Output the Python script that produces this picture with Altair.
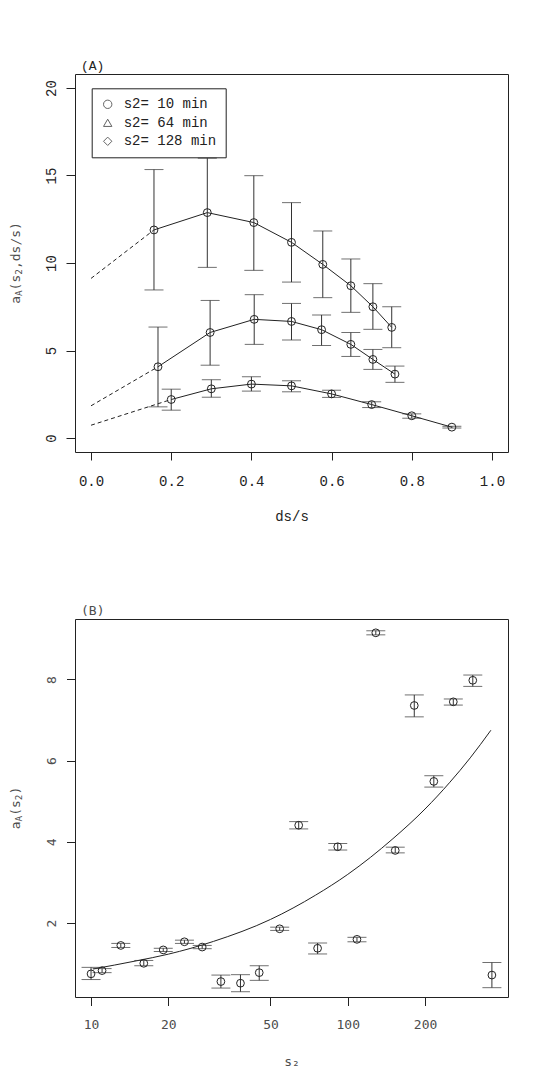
import altair as alt
import pandas as pd

# ---------------- Panel A data ----------------
a_labels = ["s2= 10 min", "s2= 64 min", "s2= 128 min"]
a_series = ["top", "mid", "bot"]
a_x_top = [0.157, 0.290, 0.406, 0.500, 0.578, 0.648, 0.703, 0.750]
a_y_top = [11.89, 12.88, 12.31, 11.18, 9.92, 8.70, 7.50, 6.32]
a_hi_top = [15.34, 15.99, 14.99, 13.45, 11.83, 10.23, 8.82, 7.50]
a_lo_top = [8.46, 9.75, 9.58, 8.91, 8.02, 7.18, 6.21, 5.16]
a_x_mid = [0.167, 0.297, 0.407, 0.500, 0.575, 0.648, 0.703, 0.758]
a_y_mid = [4.07, 6.03, 6.78, 6.66, 6.19, 5.35, 4.49, 3.65]
a_hi_mid = [6.34, 7.86, 8.19, 7.69, 7.03, 6.03, 5.06, 4.11]
a_lo_mid = [1.78, 4.16, 5.35, 5.60, 5.29, 4.66, 3.92, 3.18]
a_x_bot = [0.20, 0.30, 0.40, 0.50, 0.60, 0.70, 0.80, 0.90]
a_y_bot = [2.20, 2.81, 3.08, 2.98, 2.52, 1.91, 1.27, 0.62]
a_hi_bot = [2.79, 3.33, 3.50, 3.27, 2.73, 2.07, 1.38, 0.67]
a_lo_bot = [1.59, 2.33, 2.68, 2.64, 2.32, 1.74, 1.13, 0.57]
a_extrap_x = [0.0, 0.0, 0.0]
a_extrap_y = [9.12, 1.84, 0.73]
a_xticks = [0.0, 0.2, 0.4, 0.6, 0.8, 1.0]
a_yticks = [0, 5, 10, 15, 20]

# ---------------- Panel B data ----------------
b_s2 = [10.0, 11.04, 13.06, 16.05, 19.11, 23.11, 27.1, 32.05, 38.2, 45.2, 54.3,
        64.4, 76.3, 91.4, 108.6, 128.6, 153.1, 181.6, 216.4, 257.7, 306.9, 364.3]
b_a = [0.75, 0.83, 1.45, 1.01, 1.34, 1.54, 1.41, 0.56, 0.52, 0.78, 1.86,
       4.41, 1.38, 3.88, 1.60, 9.15, 3.79, 7.36, 5.49, 7.45, 7.98, 0.72]
b_hi = [0.91, 0.88, 1.50, 1.08, 1.38, 1.58, 1.45, 0.72, 0.73, 0.95, 1.90,
        4.50, 1.51, 3.96, 1.65, 9.20, 3.87, 7.62, 5.63, 7.52, 8.11, 1.03]
b_lo = [0.61, 0.78, 1.40, 0.95, 1.30, 1.50, 1.37, 0.40, 0.31, 0.59, 1.82,
        4.32, 1.24, 3.80, 1.54, 9.10, 3.73, 7.08, 5.35, 7.37, 7.83, 0.41]
b_fit_s2 = [10.2, 15, 20, 30, 50, 75, 100, 150, 200, 250, 300, 361]
b_fit_a = [0.87, 1.07, 1.235, 1.55, 2.09, 2.69, 3.20, 4.08, 4.81, 5.47, 6.07, 6.75]
b_xticks = [10, 20, 50, 100, 200]
b_yticks = [2, 4, 6, 8]

# ---------------- styling ----------------
W, H = 433, 378
FA = "Liberation Mono"
FB = "DejaVu Sans Mono"
INK = "#222222"
GREY = "#4d4d4d"

# ---------------- tables ----------------
df_a = pd.DataFrame({
    "series": [a_series[0]] * len(a_x_top) + [a_series[1]] * len(a_x_mid) + [a_series[2]] * len(a_x_bot),
    "x": a_x_top + a_x_mid + a_x_bot,
    "y": a_y_top + a_y_mid + a_y_bot,
    "hi": a_hi_top + a_hi_mid + a_hi_bot,
    "lo": a_lo_top + a_lo_mid + a_lo_bot,
})
firsts = [(a_x_top[0], a_y_top[0]), (a_x_mid[0], a_y_mid[0]), (a_x_bot[0], a_y_bot[0])]
dash_rows = []
for s, ex, ey, (fx, fy) in zip(a_series, a_extrap_x, a_extrap_y, firsts):
    dash_rows.append({"series": s, "x": ex, "y": ey})
    dash_rows.append({"series": s, "x": fx, "y": fy})
df_dash = pd.DataFrame(dash_rows)
df_leg = pd.DataFrame({"series": a_labels, "x": [None] * 3, "y": [None] * 3})

df_b = pd.DataFrame({"s2": b_s2, "a": b_a, "hi": b_hi, "lo": b_lo})
df_fit = pd.DataFrame({"s2": b_fit_s2, "a": b_fit_a})

# ---------------- helpers ----------------
def rot_title(pieces, fs, font, color, cx, cy):
    sub = fs * 0.72
    widths = [len(t) * 0.602 * (sub if s else fs) for t, s in pieces]
    y = cy + sum(widths) / 2
    out = []
    for (t, s), w in zip(pieces, widths):
        out.append(
            alt.Chart(alt.Data(values=[{}])).mark_text(
                text=t, angle=270, align="left", baseline="middle",
                font=font, fontSize=sub if s else fs, color=color
            ).encode(x=alt.value(cx + (3 if s else 0)), y=alt.value(y))
        )
        y -= w
    return out

# ---------------- Panel A ----------------
xa = alt.Scale(domain=[-0.04, 1.04], nice=False, zero=False)
ya = alt.Scale(domain=[-0.8, 20.8], nice=False, zero=False)
ax_xa = alt.Axis(values=a_xticks, format=".1f", title="ds/s", tickSize=8, labelPadding=14,
                 titlePadding=21, labelFont=FA, labelFontSize=14, titleFont=FA, titleFontSize=14,
                 titleFontWeight="normal", labelColor=INK, titleColor=INK, tickColor=INK,
                 domain=False, grid=False, labelFlush=False)
ax_ya = alt.Axis(values=a_yticks, title=None, tickSize=9, labelPadding=8, labelAngle=270,
                 labelAlign="center", labelBaseline="bottom", labelFont=FA, labelFontSize=14,
                 labelColor=INK, tickColor=INK, domain=False, grid=False)

def XA(f):
    return alt.X(f, type="quantitative", scale=xa, axis=ax_xa)

def YA(f):
    return alt.Y(f, type="quantitative", scale=ya, axis=ax_ya)

dash_a = alt.Chart(df_dash).mark_line(color=INK, strokeWidth=1, strokeDash=[4, 3]).encode(
    x=XA("x"), y=YA("y"), detail="series:N")
line_a = alt.Chart(df_a).mark_line(color=INK, strokeWidth=1).encode(
    x=XA("x"), y=YA("y"), detail="series:N")
rule_a = alt.Chart(df_a).mark_rule(color="#333333", strokeWidth=1).encode(
    x=XA("x"), y=YA("lo"), y2="hi:Q")
caphi_a = alt.Chart(df_a).mark_tick(orient="horizontal", size=19, thickness=1, color="#333333").encode(
    x=XA("x"), y=YA("hi"))
caplo_a = alt.Chart(df_a).mark_tick(orient="horizontal", size=19, thickness=1, color="#333333").encode(
    x=XA("x"), y=YA("lo"))
pts_a = alt.Chart(df_a).mark_point(shape="circle", filled=False, size=62, color=INK, strokeWidth=1, opacity=1).encode(
    x=XA("x"), y=YA("y"))
leg_a = alt.Chart(df_leg).mark_point(filled=False, size=64, color=INK, strokeWidth=1).encode(
    x=XA("x"), y=YA("y"),
    shape=alt.Shape("series:N",
                    scale=alt.Scale(domain=a_labels, range=["circle", "triangle-up", "diamond"]),
                    legend=alt.Legend(title=None, orient="none", legendX=16.7, legendY=14.3,
                                      strokeColor=INK, padding=9, rowPadding=4.5,
                                      labelFont=FA, labelFontSize=14, labelColor=INK,
                                      symbolSize=70, symbolStrokeColor=INK, symbolStrokeWidth=1,
                                      symbolFillColor="transparent", labelOffset=9)))

title_a = rot_title([("a", False), ("A", True), ("(s", False), ("2", True), (",ds/s)", False)],
                    13, FB, GREY, -59.5, H / 2)

panel_a = alt.layer(dash_a, line_a, rule_a, caphi_a, caplo_a, pts_a, leg_a, *title_a).properties(
    width=W, height=H,
    title=alt.TitleParams("(A)", anchor="start", frame="group", font=FA, fontSize=13,
                          fontWeight="normal", color=INK, offset=1, dx=6))

# ---------------- Panel B ----------------
xb = alt.Scale(type="log", domain=[8.66, 420.9], nice=False)
yb = alt.Scale(domain=[0.18, 9.49], nice=False, zero=False)
ax_xb = alt.Axis(values=b_xticks, format="d", title="s₂", tickSize=8.5, labelPadding=13,
                 titlePadding=24, labelFont=FB, labelFontSize=13, titleFont=FB, titleFontSize=13,
                 titleFontWeight="normal", labelColor=GREY, titleColor=GREY, tickColor=INK,
                 domain=False, grid=False, labelFlush=False)
ax_yb = alt.Axis(values=b_yticks, title=None, tickSize=8.5, labelPadding=8.5, labelAngle=270,
                 labelAlign="center", labelBaseline="bottom", labelFont=FB, labelFontSize=13,
                 labelColor=GREY, tickColor=INK, domain=False, grid=False)

def XB(f):
    return alt.X(f, type="quantitative", scale=xb, axis=ax_xb)

def YB(f):
    return alt.Y(f, type="quantitative", scale=yb, axis=ax_yb)

fit_b = alt.Chart(df_fit).mark_line(color=INK, strokeWidth=1, interpolate="monotone").encode(
    x=XB("s2"), y=YB("a"))
rule_b = alt.Chart(df_b).mark_rule(color="#333333", strokeWidth=1).encode(
    x=XB("s2"), y=YB("lo"), y2="hi:Q")
caphi_b = alt.Chart(df_b).mark_tick(orient="horizontal", size=19, thickness=1, color="#333333").encode(
    x=XB("s2"), y=YB("hi"))
caplo_b = alt.Chart(df_b).mark_tick(orient="horizontal", size=19, thickness=1, color="#333333").encode(
    x=XB("s2"), y=YB("lo"))
pts_b = alt.Chart(df_b).mark_point(shape="circle", filled=False, size=60, color=INK, strokeWidth=1, opacity=1).encode(
    x=XB("s2"), y=YB("a"))

title_b = rot_title([("a", False), ("A", True), ("(s", False), ("2", True), (")", False)],
                    13, FB, GREY, -59.5, H / 2)

panel_b = alt.layer(fit_b, rule_b, caphi_b, caplo_b, pts_b, *title_b).properties(
    width=W, height=H,
    title=alt.TitleParams("(B)", anchor="start", frame="group", font=FB, fontSize=13,
                          fontWeight="normal", color=GREY, offset=1, dx=6))

chart = alt.vconcat(panel_a, panel_b, spacing=80).properties(
    padding={"left": 0, "top": 51, "right": 5, "bottom": 5}
).configure_view(stroke=INK, strokeWidth=1).configure_axis(grid=False, domain=False)

chart.save("out.html", embed_options={"renderer": "svg", "actions": False})
